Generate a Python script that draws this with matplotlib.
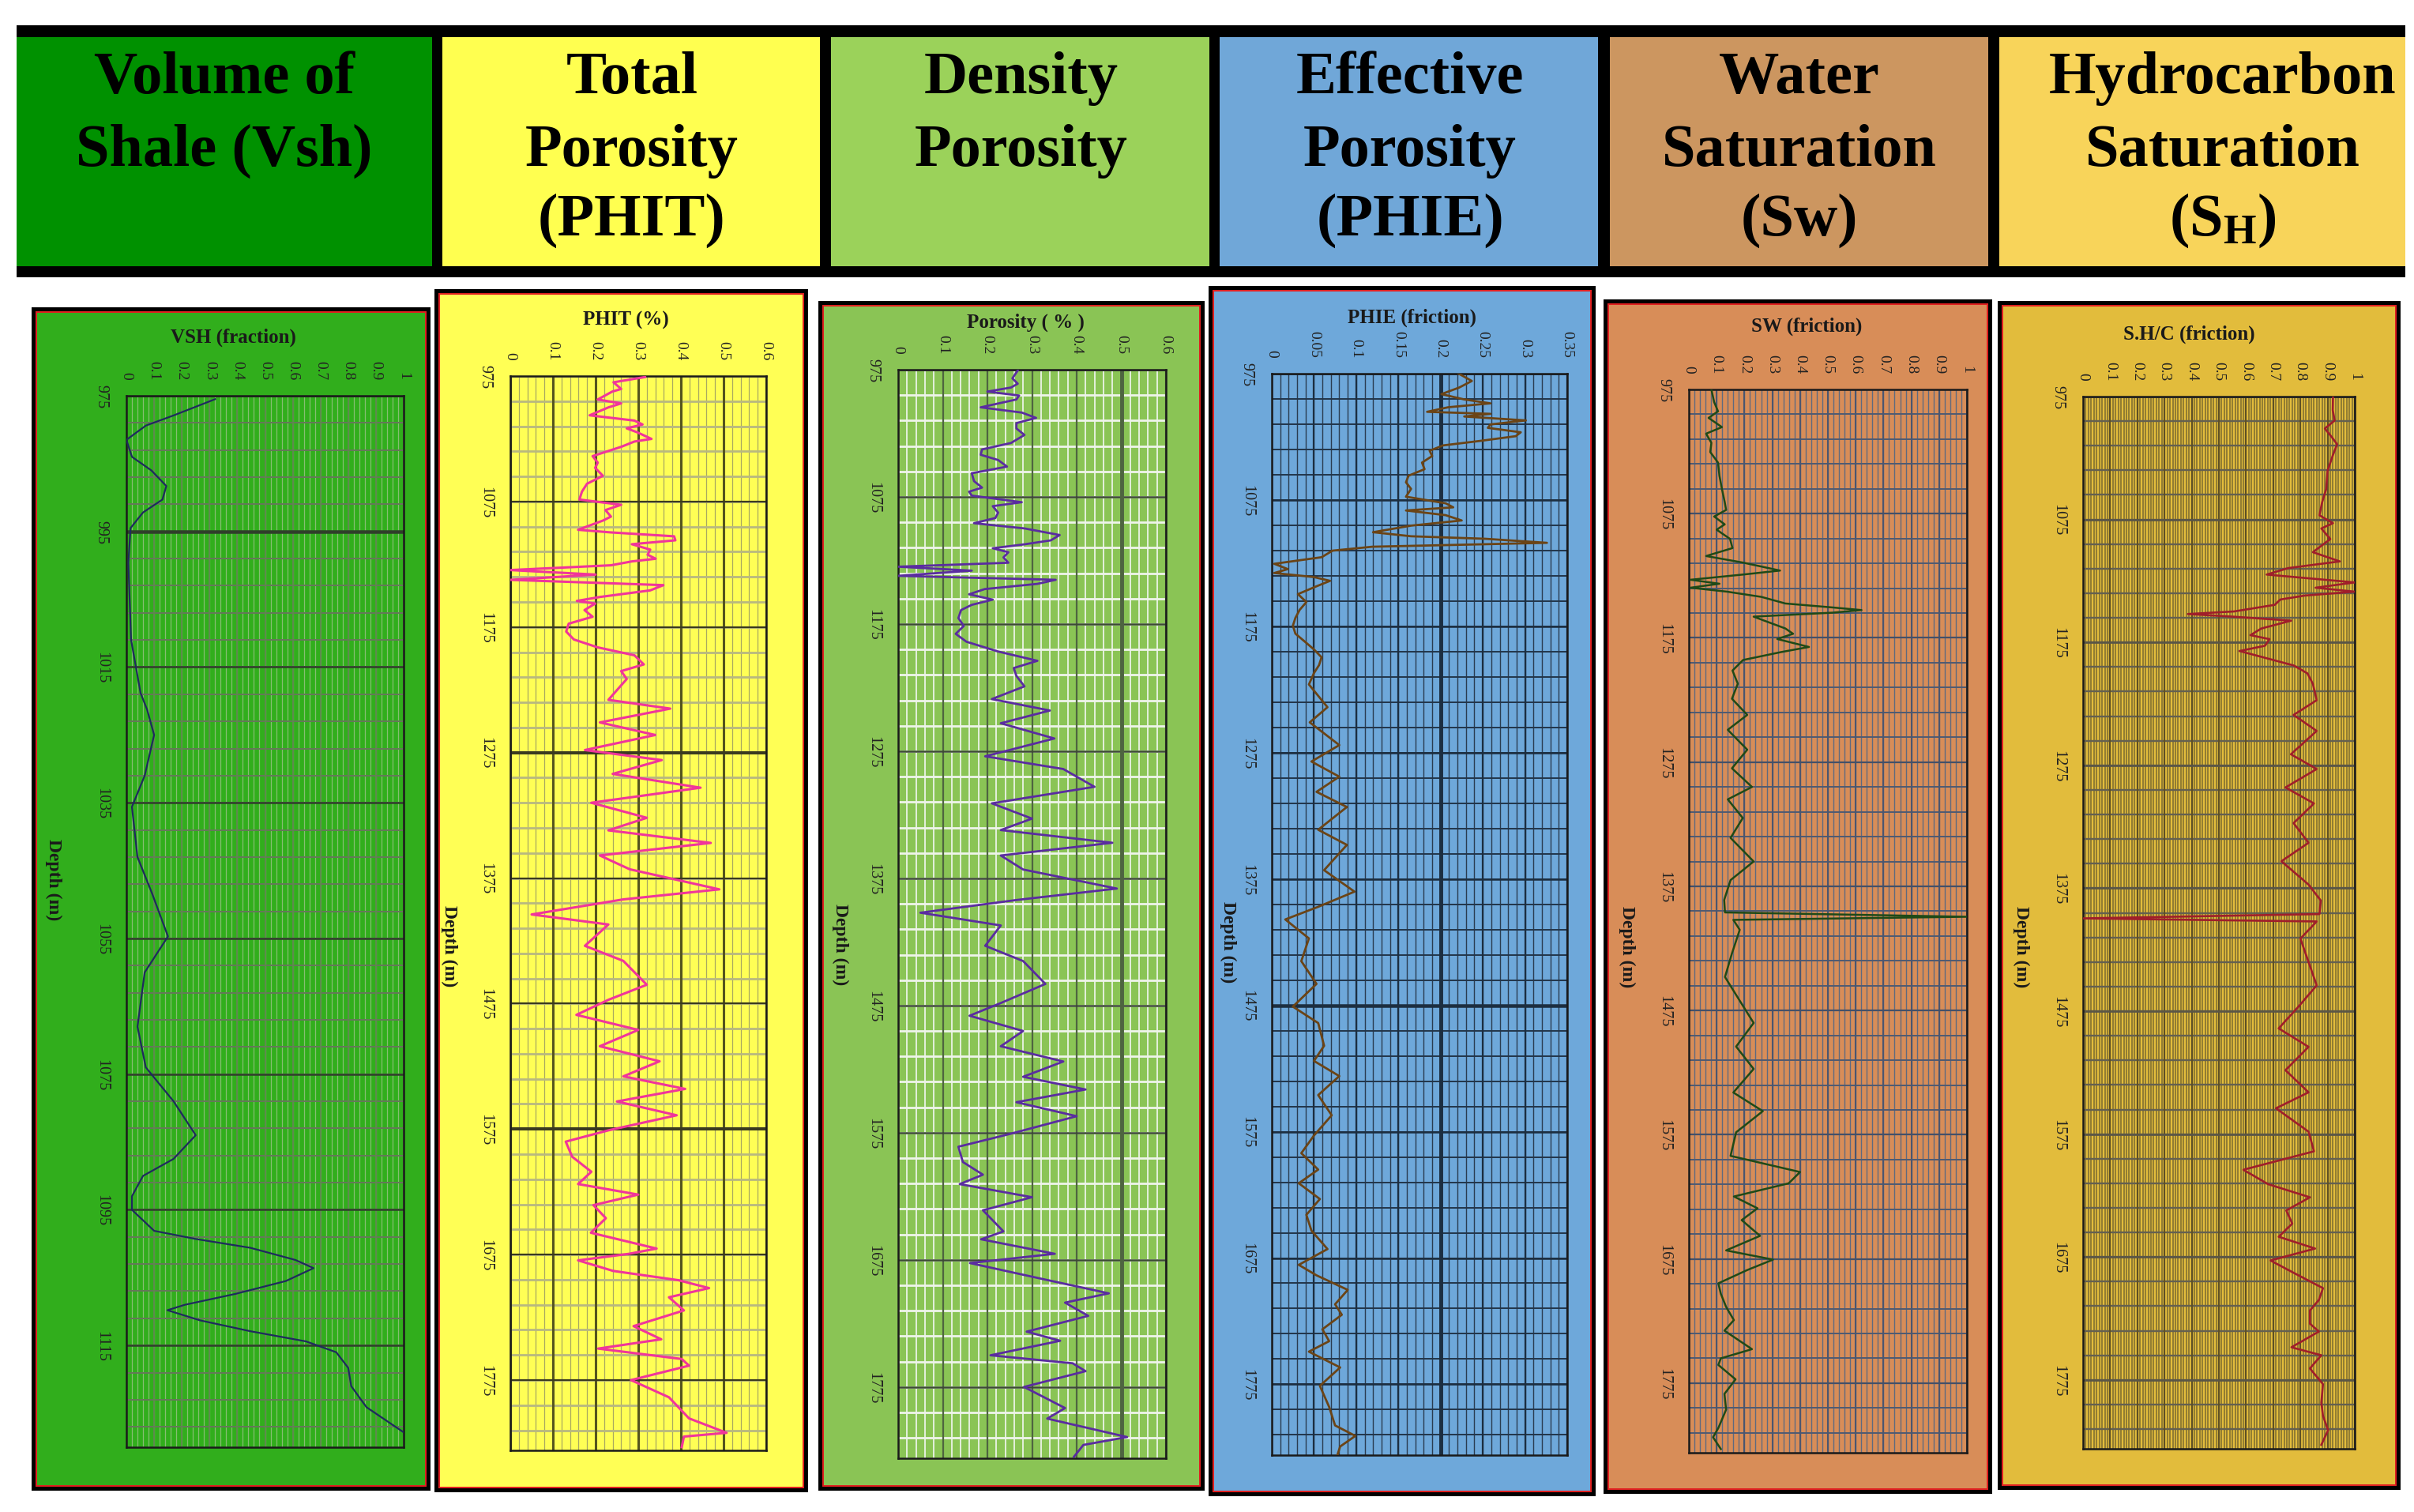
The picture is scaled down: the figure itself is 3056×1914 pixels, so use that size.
import matplotlib
matplotlib.use("Agg")
import matplotlib.pyplot as plt
from matplotlib.patches import Rectangle
import numpy as np

W, H = 3056, 1915
SERIF = ["Liberation Serif", "DejaVu Serif"]
plt.rcParams["font.family"] = SERIF
plt.rcParams["mathtext.fontset"] = "custom"
plt.rcParams["mathtext.rm"] = "Liberation Serif:bold"
plt.rcParams["mathtext.bf"] = "Liberation Serif:bold"
plt.rcParams["mathtext.it"] = "Liberation Serif:bold"

# ---------------- header ----------------
header_lines = [
    ["Volume of", "Shale (Vsh)"],
    ["Total", "Porosity", "(PHIT)"],
    ["Density", "Porosity"],
    ["Effective", "Porosity", "(PHIE)"],
    ["Water", "Saturation", "(Sw)"],
    ["Hydrocarbon", "Saturation", r"$\mathrm{(S_H)}$"],
]
header_colors = ["#009100", "#FFFF50", "#9BD25A", "#70A7D8", "#CC9660", "#F8D45A"]

# ---------------- track titles / axes ----------------
track_titles = ["VSH (fraction)", "PHIT (%)", "Porosity ( % )",
                "PHIE (friction)", "SW (friction)", "S.H/C (friction)"]
track_xmax = [1.0, 0.6, 0.6, 0.35, 1.0, 1.0]
track_xticks = [
    [0, 0.1, 0.2, 0.3, 0.4, 0.5, 0.6, 0.7, 0.8, 0.9, 1],
    [0, 0.1, 0.2, 0.3, 0.4, 0.5, 0.6],
    [0, 0.1, 0.2, 0.3, 0.4, 0.5, 0.6],
    [0, 0.05, 0.1, 0.15, 0.2, 0.25, 0.3, 0.35],
    [0, 0.1, 0.2, 0.3, 0.4, 0.5, 0.6, 0.7, 0.8, 0.9, 1],
    [0, 0.1, 0.2, 0.3, 0.4, 0.5, 0.6, 0.7, 0.8, 0.9, 1],
]
vsh_depth_ticks = [975, 995, 1015, 1035, 1055, 1075, 1095, 1115]
log_depth_ticks = [975, 1075, 1175, 1275, 1375, 1475, 1575, 1675, 1775]

# ---------------- curves (depth m, value) ----------------
vsh_depth = [975.5, 977.9, 979.4, 981.5, 984, 986, 988.3, 990.3, 992.2, 994.5, 999.6,
             1011, 1018.8, 1021.3, 1025, 1031, 1035.6, 1043, 1048.4, 1054.7, 1060, 1068,
             1074, 1079, 1084, 1087.5, 1090, 1093, 1095, 1098.1, 1099.3, 1100.6, 1102.4,
             1103.6, 1105.5, 1107.4, 1109, 1109.8, 1111.3, 1112.9, 1114.4, 1116, 1118.3,
             1121, 1124.1, 1127.8]
vsh_value = [0.32, 0.17, 0.07, 0.0, 0.02, 0.09, 0.144, 0.13, 0.06, 0.015, 0.007,
             0.017, 0.051, 0.075, 0.10, 0.066, 0.02, 0.04, 0.093, 0.15, 0.066, 0.04,
             0.07, 0.17, 0.25, 0.17, 0.06, 0.02, 0.02, 0.10, 0.25, 0.447, 0.61,
             0.675, 0.575, 0.393, 0.211, 0.148, 0.266, 0.447, 0.648, 0.757, 0.80,
             0.811, 0.866, 1.0]

phit_depth = [975.8, 980, 985.3, 987.4, 993.7, 996.8, 1000, 1006.3, 1010.5, 1013.6, 1016.7,
              1019.9, 1025.1, 1027.2, 1031.4, 1038.8, 1044, 1048.2, 1054.5, 1060.8, 1067.1,
              1073.4, 1077.6, 1081.8, 1087, 1090.2, 1097.5, 1099.6, 1102.7, 1105.9, 1109,
              1113.3, 1117.4, 1120.6, 1122.7, 1125.8, 1129.6, 1133.2, 1137.4, 1141.6, 1145.8,
              1151, 1154.2, 1156.3, 1161.5, 1166.8, 1172.3, 1178.6, 1184.9, 1191.2, 1197.5,
              1204.8, 1210.1, 1216.4, 1233, 1240, 1251, 1261, 1273, 1281, 1292, 1303, 1315,
              1327, 1337, 1347, 1357, 1368, 1384, 1392, 1404, 1412, 1429, 1441, 1460, 1472,
              1484, 1496, 1509, 1521, 1533, 1543, 1553, 1564, 1576, 1585, 1597, 1609,
              1618.8, 1627.2, 1635.6, 1646, 1657.6, 1670.2, 1674.4, 1679.6, 1688, 1695.4,
              1701.7, 1709, 1719.5, 1732, 1742.5, 1749.9, 1758.2, 1763.5, 1775, 1788.7,
              1805.5, 1817, 1820, 1828.4]
phit_value = [0.316, 0.242, 0.260, 0.239, 0.205, 0.260, 0.230, 0.186, 0.291, 0.310, 0.273,
              0.298, 0.331, 0.291, 0.260, 0.193, 0.205, 0.199, 0.217, 0.180, 0.168,
              0.162, 0.260, 0.223, 0.236, 0.217, 0.159, 0.236, 0.384, 0.387, 0.285,
              0.328, 0.322, 0.341, 0.285, 0.236, 0.0, 0.20, 0.0, 0.359, 0.328,
              0.211, 0.156, 0.199, 0.174, 0.193, 0.137, 0.131, 0.149, 0.205, 0.291,
              0.313, 0.260, 0.273, 0.23, 0.375, 0.21, 0.34, 0.175, 0.355, 0.24, 0.446, 0.19,
              0.32, 0.23, 0.47, 0.21, 0.28, 0.49, 0.265, 0.05, 0.23, 0.175, 0.265, 0.32, 0.23,
              0.155, 0.30, 0.21, 0.35, 0.265, 0.41, 0.25, 0.39, 0.23, 0.13, 0.145, 0.19,
              0.159, 0.30, 0.195, 0.224, 0.189, 0.343, 0.278, 0.159, 0.241, 0.394,
              0.466, 0.372, 0.407, 0.289, 0.354, 0.206, 0.402, 0.419, 0.283, 0.372,
              0.419, 0.507, 0.407, 0.402]

dens_depth = [975.6, 981.8, 986, 989, 992.2, 995.3, 998.4, 1004.6, 1008.7, 1012.9, 1017,
              1021.2, 1026.3, 1032.6, 1037.7, 1041.9, 1046, 1051.2, 1056.4, 1062.6, 1067.7,
              1070.9, 1074, 1079.2, 1082.3, 1087.4, 1091.6, 1095.7, 1099.8, 1105, 1109.2,
              1112.3, 1115.4, 1118.5, 1122.6, 1126.8, 1129.9, 1133, 1137.1, 1140.2, 1143.4,
              1147.5, 1151.6, 1155.8, 1159.9, 1164, 1170.3, 1176.5, 1182.7, 1188.9, 1196.6,
              1203.9, 1209.6, 1215.8, 1224, 1234, 1243, 1253, 1265, 1279, 1289, 1303, 1316,
              1328, 1337, 1347, 1357, 1368, 1383, 1392, 1402, 1412, 1428, 1440, 1458, 1473,
              1483, 1495, 1507, 1519, 1531, 1541, 1551, 1562, 1576, 1586, 1598, 1608,
              1615.4, 1625.7, 1636, 1652.6, 1658.8, 1670.2, 1677.5, 1689.9, 1701.3, 1708.6,
              1719, 1731.4, 1738.6, 1750, 1756.3, 1762.5, 1774.9, 1791.5, 1799.8, 1814.3,
              1820.5, 1829.8]
dens_value = [0.268, 0.256, 0.268, 0.253, 0.200, 0.271, 0.265, 0.185, 0.277, 0.309, 0.265,
              0.265, 0.283, 0.253, 0.188, 0.185, 0.224, 0.244, 0.165, 0.170, 0.188,
              0.159, 0.165, 0.277, 0.212, 0.224, 0.218, 0.170, 0.283, 0.362, 0.342,
              0.283, 0.212, 0.247, 0.236, 0.247, 0.0, 0.165, 0.0, 0.353, 0.312,
              0.194, 0.159, 0.212, 0.165, 0.141, 0.135, 0.147, 0.129, 0.153, 0.224,
              0.312, 0.259, 0.265, 0.283, 0.21, 0.34, 0.23, 0.35, 0.195, 0.37, 0.44, 0.21,
              0.30, 0.23, 0.48, 0.23, 0.28, 0.49, 0.265, 0.05, 0.23, 0.195, 0.28, 0.33, 0.23,
              0.16, 0.28, 0.23, 0.37, 0.28, 0.42, 0.265, 0.40, 0.25, 0.135, 0.145, 0.19,
              0.138, 0.30, 0.19, 0.236, 0.186, 0.351, 0.161, 0.322, 0.472, 0.374,
              0.426, 0.288, 0.363, 0.207, 0.391, 0.42, 0.282, 0.374, 0.334, 0.513,
              0.415, 0.394]

phie_depth = [975, 980.8, 986, 991.2, 995.4, 998.5, 1001.6, 1005.2, 1006.8, 1008.9, 1012,
              1015.2, 1017.9, 1021.4, 1024.5, 1028.3, 1031.8, 1036, 1040.2, 1045.4, 1050.6,
              1055.8, 1061, 1066.2, 1072.4, 1077.6, 1080.8, 1083.3, 1087, 1091.2, 1095.3,
              1100.5, 1103.7, 1105.7, 1108.9, 1112, 1115.1, 1120.3, 1125.5, 1129.7, 1132.8,
              1136, 1139, 1143.3, 1149.5, 1155.8, 1162, 1168.3, 1174.5, 1180.8, 1187,
              1193.3, 1199.5, 1205.7, 1212, 1221, 1239, 1251, 1269, 1282, 1294, 1306, 1318,
              1336, 1348, 1368, 1385, 1397, 1407, 1422, 1440, 1458, 1476, 1489, 1507, 1519,
              1531, 1546, 1562, 1578, 1592, 1605, 1615.8, 1628.3, 1640.8, 1653.3, 1667.9,
              1680.4, 1688.7, 1700.2, 1711.6, 1719.9, 1731.4, 1740.8, 1749.1, 1761.6, 1776.2,
              1792.9, 1807.5, 1815.8, 1824.2, 1830.4]
phie_value = [0.2215, 0.237, 0.222, 0.201, 0.228, 0.259, 0.209, 0.184, 0.259, 0.228, 0.301,
              0.259, 0.256, 0.295, 0.289, 0.246, 0.203, 0.187, 0.190, 0.178, 0.181,
              0.162, 0.159, 0.165, 0.159, 0.206, 0.215, 0.159, 0.206, 0.225, 0.165,
              0.120, 0.165, 0.253, 0.326, 0.119, 0.072, 0.059, 0.003, 0.019, 0.003,
              0.05, 0.069, 0.053, 0.031, 0.041, 0.033, 0.028, 0.025, 0.028, 0.039,
              0.05, 0.059, 0.056, 0.05, 0.044, 0.066, 0.045, 0.08, 0.047, 0.08, 0.053, 0.089,
              0.055, 0.089, 0.062, 0.098, 0.055, 0.016, 0.044, 0.035, 0.053, 0.025, 0.055,
              0.062, 0.05, 0.08, 0.055, 0.071, 0.05, 0.035, 0.055, 0.032, 0.057, 0.041,
              0.047, 0.066, 0.032, 0.053, 0.09, 0.075, 0.083, 0.06, 0.068, 0.044, 0.081,
              0.057, 0.068, 0.075, 0.099, 0.081, 0.078]

sw_depth = [975, 985.2, 992.6, 997.9, 1005.3, 1010.6, 1018, 1025.4, 1033.9, 1044.5, 1055.1,
            1065.7, 1072, 1077.3, 1083.6, 1087.9, 1095.3, 1102.7, 1109.1, 1114.4, 1120.8,
            1124, 1128.2, 1131.4, 1134.6, 1137.8, 1142, 1147.3, 1150.5, 1152.6, 1154.7,
            1157.9, 1161.1, 1167.4, 1171.7, 1175.9, 1182.3, 1186.5, 1192.8, 1201.3, 1211.9,
            1224, 1237, 1249, 1265, 1280, 1295, 1305, 1320, 1336, 1355, 1370, 1386, 1396,
            1399.5, 1402, 1410, 1429, 1448, 1466, 1485, 1504, 1522, 1541, 1556, 1573, 1592,
            1605, 1614.1, 1624.7, 1634.2, 1643.7, 1656.4, 1668.1, 1675.5, 1684, 1694.6,
            1703, 1713.6, 1724.2, 1732.7, 1747.6, 1755, 1760.3, 1771.9, 1783.6, 1796.3,
            1811.1, 1818.5, 1828]
sw_value = [0.081, 0.091, 0.105, 0.071, 0.119, 0.062, 0.081, 0.077, 0.105, 0.11, 0.119,
            0.129, 0.134, 0.091, 0.129, 0.10, 0.148, 0.157, 0.062, 0.195, 0.328,
            0.195, 0.006, 0.11, 0.006, 0.138, 0.261, 0.347, 0.517, 0.621, 0.517,
            0.233, 0.271, 0.347, 0.375, 0.318, 0.432, 0.33, 0.195, 0.157, 0.176,
            0.155, 0.21, 0.14, 0.21, 0.155, 0.227, 0.14, 0.194, 0.15, 0.233, 0.15, 0.127, 0.13,
            1.0, 0.16, 0.183, 0.155, 0.13, 0.18, 0.233, 0.17, 0.233, 0.16, 0.266, 0.17, 0.15,
            0.40, 0.359, 0.162, 0.247, 0.19, 0.256, 0.134, 0.303, 0.209, 0.106,
            0.115, 0.134, 0.162, 0.128, 0.227, 0.115, 0.106, 0.168, 0.128, 0.134,
            0.106, 0.087, 0.115]

sh_depth = [975.2, 986, 994.5, 1001, 1008.4, 1013.8, 1022.4, 1035.2, 1050.2, 1060.9, 1071.6,
            1078, 1082.3, 1090.9, 1101.6, 1109.1, 1114.5, 1119.8, 1123, 1126.2, 1130.5,
            1133.7, 1136.9, 1140.1, 1144.4, 1149.8, 1151.9, 1154.1, 1157.3, 1163.7, 1169.1,
            1172.3, 1177.7, 1182, 1187.3, 1193.8, 1200.2, 1208.8, 1222, 1234, 1247, 1266,
            1278, 1293, 1306, 1322, 1338, 1353, 1372, 1385, 1396, 1399.5, 1402, 1416, 1435,
            1454, 1472, 1489, 1504, 1523, 1541, 1554, 1573, 1589, 1604, 1615.7, 1626.4,
            1637.1, 1647.8, 1658.5, 1668.1, 1677.8, 1686.3, 1700.3, 1709.9, 1718.5, 1729.2,
            1735.6, 1748.4, 1754.9, 1765.6, 1778.4, 1793.4, 1804.1, 1815.9, 1827.7]
sh_value = [0.92, 0.919, 0.926, 0.89, 0.917, 0.935, 0.92, 0.90, 0.895, 0.88, 0.87,
            0.92, 0.877, 0.91, 0.846, 0.945, 0.756, 0.676, 0.838, 1.0, 0.856,
            1.0, 0.816, 0.726, 0.706, 0.556, 0.386, 0.556, 0.766, 0.656, 0.616,
            0.686, 0.67, 0.576, 0.666, 0.776, 0.826, 0.846, 0.86, 0.775, 0.86, 0.765,
            0.86, 0.745, 0.85, 0.775, 0.83, 0.73, 0.83, 0.875, 0.87, 0.0, 0.86, 0.80, 0.83,
            0.86, 0.79, 0.72, 0.83, 0.745, 0.83, 0.71, 0.83, 0.85, 0.59, 0.681, 0.835,
            0.748, 0.77, 0.72, 0.854, 0.69, 0.762, 0.883, 0.868, 0.835, 0.835,
            0.868, 0.767, 0.877, 0.835, 0.883, 0.877, 0.883, 0.902, 0.877]

# ---------------- layout (pixels) ----------------
header_cells = [(21, 547), (560, 1038), (1052, 1531), (1544, 2023), (2038, 2517), (2531, 3045)]
header_text_x = [284, 800, 1293, 1785, 2278, 2814]
header_baselines = [118, 210, 298]

frames = [(40, 390, 545, 1888), (550, 367, 1023, 1890), (1036, 382, 1525, 1888),
          (1530, 363, 2020, 1895), (2030, 380, 2522, 1892), (2529, 382, 3039, 1887)]
plot_boxes = [(160, 502, 511, 1833), (646, 477, 970, 1837), (1137, 469, 1476, 1847),
              (1610, 474, 1984, 1843), (2138, 494, 2490, 1840), (2637, 503, 2981, 1835)]
title_pos = [(295, 427), (792, 405), (1298, 408), (1788, 402), (2287, 413), (2771, 423)]
depth_label_pos = [(68, 1114), (569, 1198), (1064, 1196), (1555, 1193), (2060, 1199), (2559, 1199)]

panel_bg = ["#31AE1C", "#FFFF55", "#8AC455", "#6EA8DA", "#D88D58", "#E2BC3C"]
curve_color = ["#1E2A5E", "#F0359B", "#5A2CA0", "#6B4416", "#1F4A16", "#A01E2A"]
curve_lw = [1.6, 2.2, 2.0, 2.0, 1.8, 1.9]

# grid styles: (vmajor, vminor, hmajor, hminor) as (color, lw)
grid_styles = [
    (("#5E8A4E", 1.4), ("#86BE72", 0.9), ("#2F3F2A", 1.8), ("#66775A", 1.4)),
    (("#55551E", 2.2), ("#A8A860", 0.9), ("#3A3A20", 1.6), ("#B8B880", 2.0)),
    (("#4E6440", 1.6), ("#E4F0DC", 1.4), ("#3C4A34", 1.8), ("#EEF4EA", 2.0)),
    (("#1C2E40", 1.6), ("#2A3C50", 1.0), ("#1C2E40", 1.8), ("#22354A", 1.4)),
    (("#4A5670", 1.5), ("#5E6A80", 1.0), ("#445068", 1.6), ("#4E5A72", 1.4)),
    (("#5E5024", 1.6), ("#7A6A30", 1.1), ("#5A5646", 1.9), ("#646050", 1.7)),
]
x_minor_step = [0.02, 0.02, 0.02, 0.01, 0.02, 0.01]
# a few grid lines drawn heavier in the original charts
bold_x_lines = [[], [], [0.5], [0.2], [], []]
bold_y_lines = [[995], [1275, 1575], [], [1475], [], []]

curves = [(vsh_value, vsh_depth), (phit_value, phit_depth), (dens_value, dens_depth),
          (phie_value, phie_depth), (sw_value, sw_depth), (sh_value, sh_depth)]

fig = plt.figure(figsize=(W / 100, H / 100), dpi=100)
fig.patch.set_facecolor("white")
bg = fig.add_axes([0, 0, 1, 1])
bg.set_xlim(0, W)
bg.set_ylim(H, 0)
bg.axis("off")

# header band
bg.add_patch(Rectangle((21, 33), 3045 - 21, 352 - 33, facecolor="black", edgecolor="none"))
for (x0, x1), col, lines, tx in zip(header_cells, header_colors, header_lines, header_text_x):
    bg.add_patch(Rectangle((x0, 48), x1 - x0, 338 - 48, facecolor=col, edgecolor="none"))
    for s, yb in zip(lines, header_baselines):
        bg.text(tx, yb, s, ha="center", va="baseline", fontsize=55,
                fontweight="bold", color="black")


def fmt(v):
    if v == 0:
        return "0"
    if v == 1:
        return "1"
    return ("%g" % v)


for i in range(6):
    fx0, fy0, fx1, fy1 = frames[i]
    bg.add_patch(Rectangle((fx0, fy0), fx1 - fx0, fy1 - fy0, facecolor="black", edgecolor="none"))
    bg.add_patch(Rectangle((fx0 + 5, fy0 + 5), fx1 - fx0 - 10, fy1 - fy0 - 10,
                           facecolor="#E02020", edgecolor="none"))
    bg.add_patch(Rectangle((fx0 + 7, fy0 + 7), fx1 - fx0 - 14, fy1 - fy0 - 14,
                           facecolor=panel_bg[i], edgecolor="none"))

    bg.text(*title_pos[i], track_titles[i], ha="center", va="center",
            fontsize=18, fontweight="bold", color="#1a1a1a")
    bg.text(*depth_label_pos[i], "Depth (m)", ha="center", va="center", rotation=-90,
            fontsize=17, fontweight="bold", color="#1a1a1a")

    px0, py0, px1, py1 = plot_boxes[i]
    ax = fig.add_axes([px0 / W, 1 - py1 / H, (px1 - px0) / W, (py1 - py0) / H])
    ax.set_facecolor(panel_bg[i])
    xmax = track_xmax[i]
    ax.set_xlim(0, xmax)
    if i == 0:
        ytop, ybot = 975, 1130
        yt = vsh_depth_ticks
        ymin_step = 4
    else:
        ytop, ybot = 975, 1831
        yt = log_depth_ticks
        ymin_step = 20
    ax.set_ylim(ybot, ytop)

    vmaj, vmin, hmaj, hmin = grid_styles[i]
    xminor = np.arange(0, xmax + 1e-9, x_minor_step[i])
    ax.vlines(xminor, ytop, ybot, colors=vmin[0], lw=vmin[1], zorder=1)
    ax.vlines(track_xticks[i], ytop, ybot, colors=vmaj[0], lw=vmaj[1], zorder=1.2)
    yminor = np.arange(ytop, ybot + 1e-9, ymin_step)
    ax.hlines(yminor, 0, xmax, colors=hmin[0], lw=hmin[1], zorder=1.1)
    ax.hlines(yt, 0, xmax, colors=hmaj[0], lw=hmaj[1], zorder=1.3)
    if bold_x_lines[i]:
        ax.vlines(bold_x_lines[i], ytop, ybot, colors=vmaj[0], lw=vmaj[1] * 2.2, zorder=1.4)
    if bold_y_lines[i]:
        ax.hlines(bold_y_lines[i], 0, xmax, colors=hmaj[0], lw=hmaj[1] * 1.8, zorder=1.4)

    ax.plot(curves[i][0], curves[i][1], color=curve_color[i], lw=curve_lw[i],
            solid_joinstyle="round", zorder=3)

    ax.set_xticks(track_xticks[i])
    ax.set_xticklabels([fmt(v) for v in track_xticks[i]])
    ax.xaxis.tick_top()
    ax.tick_params(axis="x", length=0, pad=15, labelsize=14, labelrotation=-90,
                   labelcolor="#222222")
    ax.set_yticks(yt)
    ax.set_yticklabels([str(v) for v in yt])
    ax.tick_params(axis="y", length=0, pad=16, labelsize=14.5, labelrotation=-90,
                   labelcolor="#222222")
    for lbl in ax.get_yticklabels():
        lbl.set_va("center")
    for sp in ax.spines.values():
        sp.set_color("#1a1a1a")
        sp.set_linewidth(1.8)

fig.savefig("out.png", dpi=100, facecolor="white")
